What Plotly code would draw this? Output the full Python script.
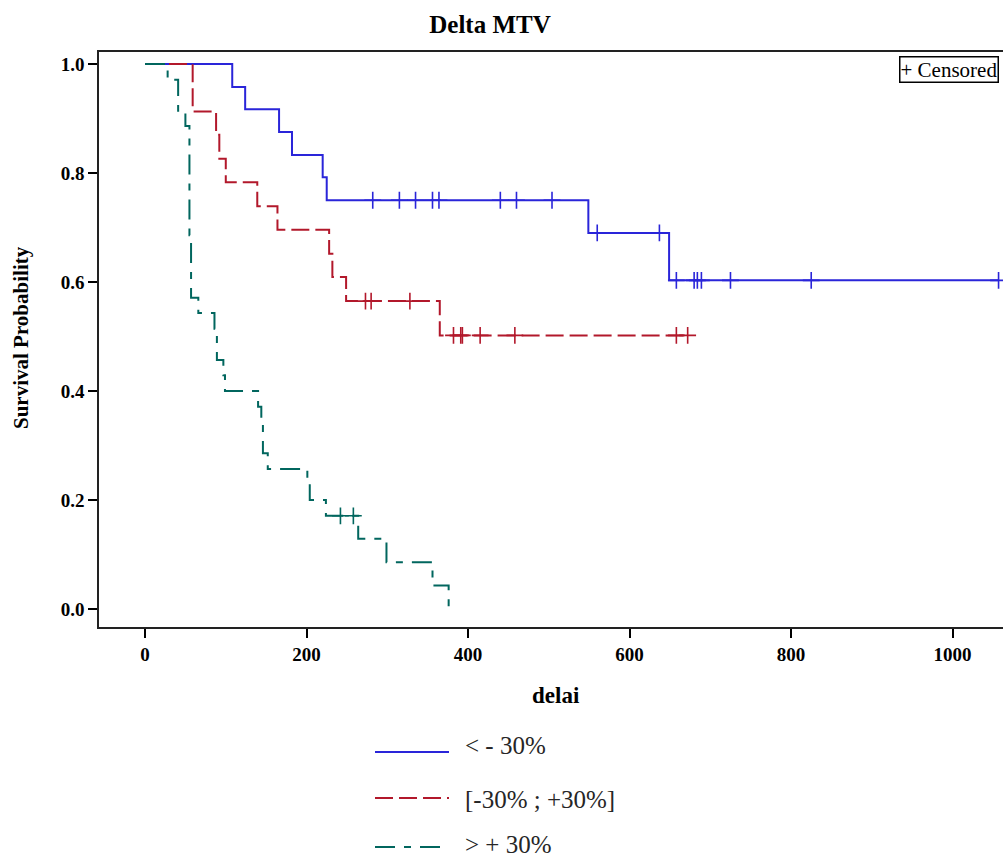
import plotly.graph_objects as go

# ---------------- data ----------------
groups = ["< - 30%", "[-30% ; +30%]", "> + 30%"]

blue_times = [0, 108, 124, 166, 182, 220, 225, 549, 649]
blue_surv = [1.0, 0.958, 0.917, 0.875, 0.833, 0.792, 0.750, 0.690, 0.603]
blue_cens = [282, 315, 335, 356, 364, 440, 460, 504, 560, 637,
             658, 680, 684, 689, 725, 825, 1057]

red_times = [0, 59, 88, 92, 100, 139, 164, 228, 232, 249, 365]
red_surv = [1.0, 0.913, 0.870, 0.826, 0.783, 0.739, 0.696, 0.652, 0.609, 0.565, 0.502]
red_cens = [273, 280, 328, 382, 391, 393, 415, 458, 658, 672]

green_times = [0, 28, 41, 50, 55, 57, 66, 86, 89, 97, 99, 140, 144, 146, 152,
               201, 204, 224, 264, 299, 356, 376]
green_surv = [1.0, 0.971, 0.914, 0.886, 0.686, 0.571, 0.543, 0.514, 0.457, 0.429,
              0.400, 0.371, 0.343, 0.286, 0.257, 0.229, 0.200, 0.171, 0.129,
              0.086, 0.043, 0.0]
green_cens = [242, 258]

x_ticks = [0, 200, 400, 600, 800, 1000]
y_ticks = [0.0, 0.2, 0.4, 0.6, 0.8, 1.0]

# ---------------- styles ----------------
colors = ["#2A25D9", "#B2182B", "#01665E"]
dashes = ["solid", "18px,6px", "20px,9px,7px,9px"]
SERIF = "Liberation Serif"

W, H = 1003, 858
L, T, R, B = 99, 52, 1003, 627  # plot-area pixel box


def px2paper(px, py):
    return (px - L) / (R - L), (B - py) / (B - T)


def step_value(times, surv, t):
    v = surv[0]
    for ti, si in zip(times, surv):
        if ti <= t:
            v = si
    return v


fig = go.Figure()
series = [(blue_times, blue_surv, blue_cens),
          (red_times, red_surv, red_cens),
          (green_times, green_surv, green_cens)]

for (times, surv, cens), col, dash, name in zip(series, colors, dashes, groups):
    end = max(times + cens)
    xs = list(times)
    ys = list(surv)
    if end > times[-1]:
        xs.append(end)
        ys.append(surv[-1])
    fig.add_trace(go.Scatter(x=xs, y=ys, mode="lines", line_shape="hv",
                             line=dict(color=col, width=2, dash=dash),
                             name=name, showlegend=False, hoverinfo="skip"))
    fig.add_trace(go.Scatter(x=cens, y=[step_value(times, surv, c) for c in cens],
                             mode="markers",
                             marker=dict(symbol="cross-thin", size=12,
                                         line=dict(color=col, width=1.6)),
                             showlegend=False, hoverinfo="skip"))

# ---------------- manual legend below the plot ----------------
legend_rows = [(752, 745), (798, 800), (847, 844)]
shapes = []
annotations = []
for (ly, ty), col, dash, name in zip(legend_rows, colors, dashes, groups):
    x0, y0 = px2paper(375, ly)
    x1, _ = px2paper(449, ly)
    shapes.append(dict(type="line", xref="paper", yref="paper",
                       x0=x0, x1=x1, y0=y0, y1=y0,
                       line=dict(color=col, width=2, dash=dash)))
    tx, tyy = px2paper(463, ty)
    annotations.append(dict(text=name, xref="paper", yref="paper", x=tx, y=tyy,
                            xanchor="left", yanchor="middle", showarrow=False,
                            font=dict(family=SERIF, size=25, color="#262626")))

# axis titles
ax, ay = px2paper(21, 338)
annotations.append(dict(text="Survival Probability", xref="paper", yref="paper",
                        x=ax, y=ay, textangle=-90, showarrow=False,
                        xanchor="center", yanchor="middle",
                        font=dict(family=SERIF, size=21, color="black", weight="bold")))
dx, dy = px2paper(556, 695)
annotations.append(dict(text="delai", xref="paper", yref="paper", x=dx, y=dy,
                        showarrow=False, xanchor="center", yanchor="middle",
                        font=dict(family=SERIF, size=23, color="black", weight="bold")))

# censored box
cx, cy = px2paper(999, 70)
annotations.append(dict(text="+ Censored", xref="paper", yref="paper", x=cx, y=cy,
                        xanchor="right", yanchor="middle", showarrow=False,
                        bordercolor="black", borderwidth=1.5, borderpad=0,
                        bgcolor="white",
                        font=dict(family=SERIF, size=21, color="black")))

fig.update_layout(
    width=W, height=H,
    margin=dict(l=L, r=W - R, t=T, b=H - B),
    paper_bgcolor="white", plot_bgcolor="white",
    title=dict(text="<b>Delta MTV</b>", x=490 / W, y=1 - 24 / H,
               xref="container", yref="container",
               xanchor="center", yanchor="middle",
               font=dict(family=SERIF, size=25, color="black")),
    shapes=shapes, annotations=annotations,
    xaxis=dict(range=[-57, 1062.5], tickvals=x_ticks, ticks="outside",
               ticklen=9, tickwidth=1.5, tickcolor="black",
               showline=True, linecolor="#222", linewidth=1.6, mirror=True,
               showgrid=False, zeroline=False,
               tickfont=dict(family=SERIF, size=19, color="black", weight="bold")),
    yaxis=dict(range=[-0.033, 1.022], tickvals=y_ticks, tickformat=".1f",
               ticks="outside", ticklen=9, tickwidth=1.5, tickcolor="black",
               showline=True, linecolor="#222", linewidth=1.6, mirror=False,
               showgrid=False, zeroline=False,
               tickfont=dict(family=SERIF, size=19, color="black", weight="bold")),
)

fig.write_html("out.html", config={"displayModeBar": False},
               post_script="document.body.style.margin='0px';"
                           "document.body.style.overflow='hidden';")
